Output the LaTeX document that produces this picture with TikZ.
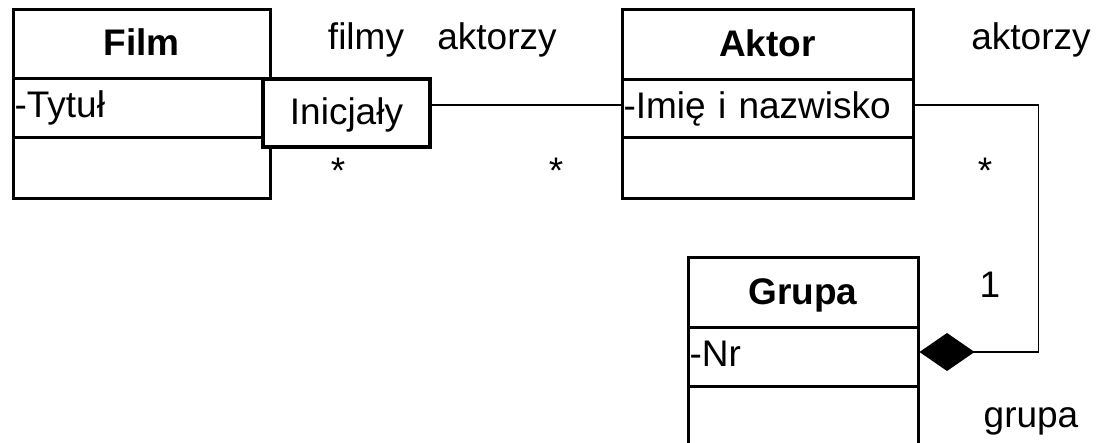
\documentclass[tikz,border=0pt]{standalone}
\usepackage{fontspec}
\setmainfont{Liberation Sans}
\usetikzlibrary{arrows.meta}
\begin{document}
\begin{tikzpicture}[x=1pt,y=-1pt,
  box/.style={draw, line width=3pt, inner xsep=1.5pt, inner ysep=0pt, text height=26.5pt, text depth=0pt, font=\fontsize{37}{37}\selectfont},
  ttl/.style={box, align=center, text depth=4pt, font=\fontsize{37}{37}\selectfont\bfseries},
  att/.style={box, align=left, text depth=8pt},
  lbl/.style={anchor=base, inner sep=0pt, font=\fontsize{37}{37}\selectfont},
  conn/.style={line width=1.8pt}]
\useasboundingbox (0,0) rectangle (1105,443);
\clip (0,0) rectangle (1105,443);
% Film
\node[ttl, minimum width=257pt, minimum height=69pt] (fT) at (141.5,44.5) {Film};
\node[att, text width=254pt, minimum height=59pt] (fA) at (141.5,108.5) {-Tytuł};
\node[box, minimum width=257pt, minimum height=61pt] (fO) at (141.5,168.5) {};
% Aktor
\node[ttl, minimum width=291pt, minimum height=70pt] (aT) at (767.5,45) {Aktor};
\node[att, text width=288pt, minimum height=58pt] (aA) at (767.5,109) {-Imię i nazwisko};
\node[box, minimum width=291pt, minimum height=61pt] (aO) at (767.5,168.5) {};
% Grupa
\node[ttl, minimum width=230pt, minimum height=70pt] (gT) at (803,293) {Grupa};
\node[att, text width=227pt, minimum height=58pt] (gA) at (803,357) {-Nr};
\node[box, minimum width=230pt, minimum height=80pt] (gO) at (803,426) {};
% qualifier
\node[box, line width=4.5pt, fill=white, minimum width=167pt, minimum height=68pt, text depth=4pt] (ini) at (346.5,113) {Inicjały};
% connectors
\draw[conn] ([yshift=8pt]ini.east) -- ([yshift=8pt]ini.east -| aA.west);
\draw[conn, -{Diamond[length=55pt,width=38pt]}] ([yshift=4pt]aA.east) -- ++(124pt,0) |- ([yshift=5pt]gA.east);
% labels
\node[lbl] (l1) at (366,50) {filmy};
\node[lbl] (l2) at (497,50) {aktorzy};
\node[lbl] (l3) at (1031,50) {aktorzy};
\node[lbl] (s1) at (338,184) {*};
\node[lbl] (s2) at (556,184) {*};
\node[lbl] (s3) at (985,184) {*};
\node[lbl] (n1) at (990,298) {1};
\node[lbl] (g1) at (1031,427) {grupa};
\end{tikzpicture}
\end{document}
